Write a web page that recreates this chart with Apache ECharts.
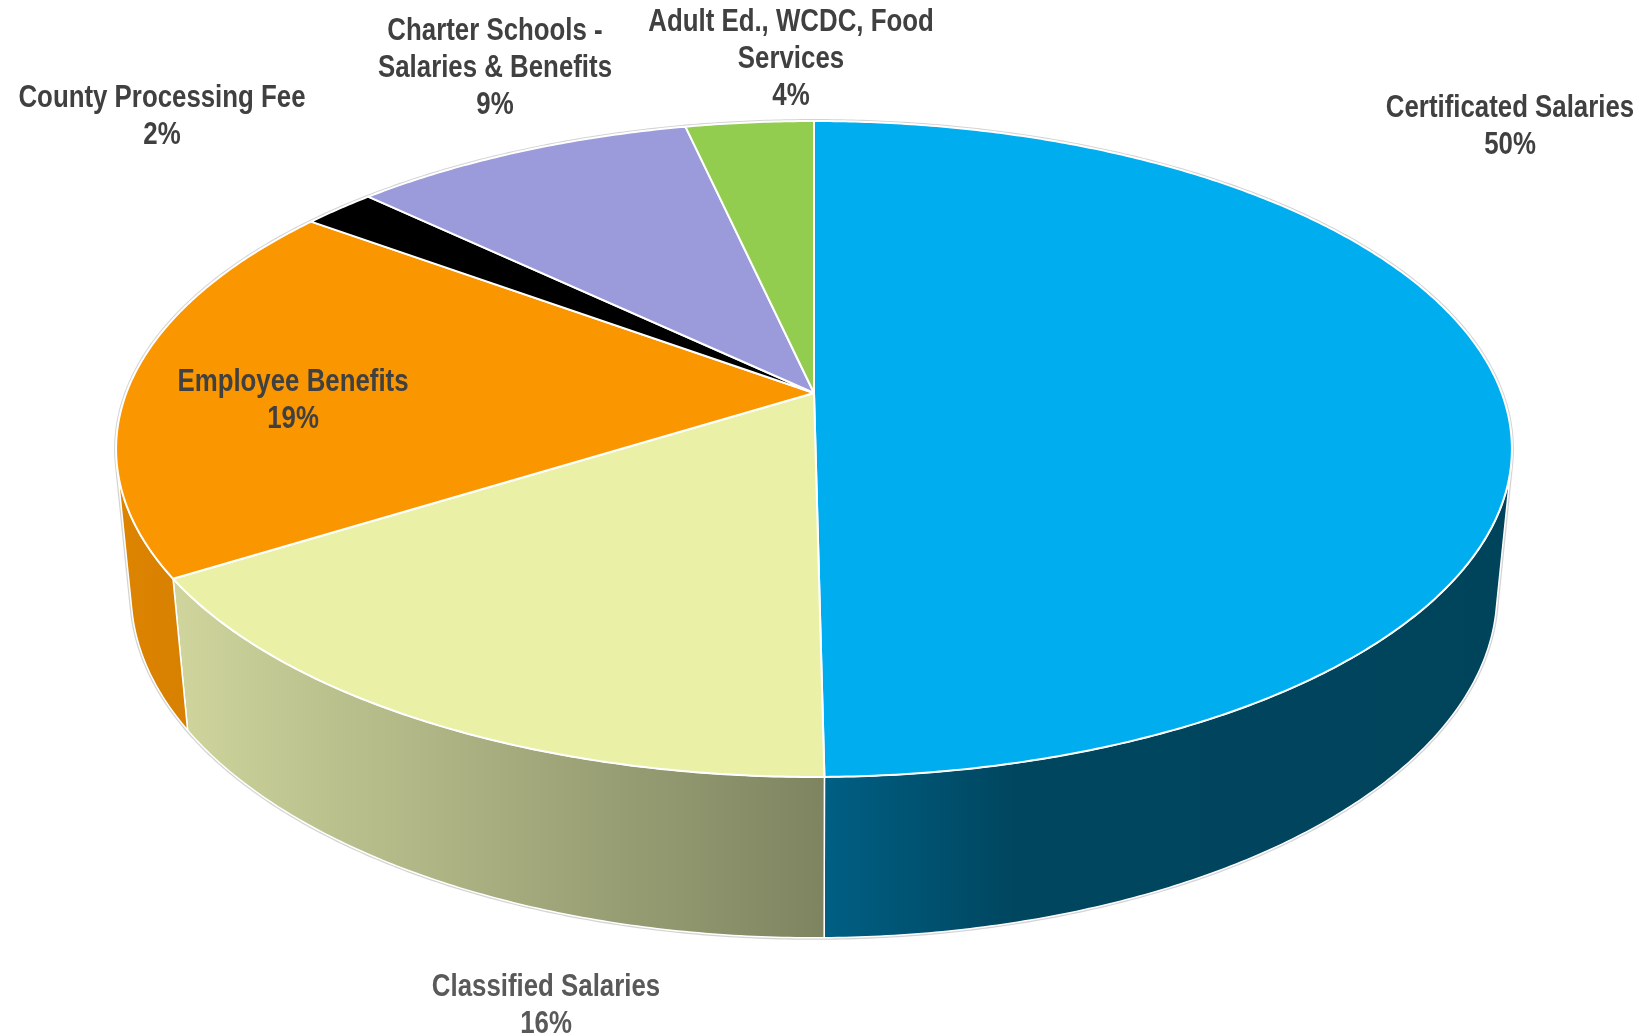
<!DOCTYPE html>
<html>
<head>
<meta charset="utf-8">
<script src="https://cdn.jsdelivr.net/npm/echarts@6/dist/echarts.min.js"></script>
<style>
html,body{margin:0;padding:0;background:#ffffff;}
#chart{width:1644px;height:1036px;}
</style>
</head>
<body>
<div id="chart"></div>
<script>
// ---- data ----
const categories = [
  'Certificated Salaries',
  'Classified Salaries',
  'Employee Benefits',
  'County Processing Fee',
  'Charter Schools -\nSalaries & Benefits',
  'Adult Ed., WCDC, Food\nServices'
];
const values = [49.8, 16.3, 19.0, 2.0, 9.4, 3.5];

// ---- styles ----
const topColors = ['#00AEEF', '#EAF1A7', '#FA9600', '#000000', '#9B9BDB', '#92CD50'];
const wallStops = [
  [[0, '#005F84'], [0.28, '#00465F'], [1, '#00445C']],
  [[0, '#CFD59C'], [1, '#7E8460']],
  [[0, '#DD8500'], [1, '#D88000']],
  [[0, '#111111'], [1, '#000000']],
  [[0, '#7D7DB5'], [1, '#6C6CA2']],
  [[0, '#76A840'], [1, '#669636']]
];
const labelColors = ['#404040', '#595959', '#404040', '#404040', '#404040', '#404040'];
// label anchors (layout, pixels)
const labelPos = [[1510, 127], [546, 1006], [293, 401], [162, 117], [495, 68], [791, 59]];

// ---- 3D projection layout ----
const CX = 814, CY = 393, F = 3569, D = 5.19, S = 0.463, C = 0.886, H = 0.238;
const T_MIN = Math.acos(-1 / (D * C));
const T_MAX = 2 * Math.PI - T_MIN;

function proj(t, r, h) {
  const x = r * Math.sin(t), z = r * Math.cos(t);
  const d = D + z * C - h * S;
  return [CX + F * x / d, CY - F * (h * C + z * S) / d];
}
function arcPts(a, b, r, h) {
  const n = Math.max(2, Math.ceil((b - a) / (Math.PI / 360)));
  const pts = [];
  for (let i = 0; i <= n; i++) pts.push(proj(a + (b - a) * i / n, r, h));
  return pts;
}

const total = values.reduce((s, v) => s + v, 0);
const starts = [];
(function () { let acc = 0; values.forEach(v => { starts.push(acc / total * 2 * Math.PI); acc += v; }); })();

// font detection: narrow font available?
function hasFont(name) {
  const cv = document.createElement('canvas').getContext('2d');
  const txt = 'County Processing Fee 123';
  cv.font = 'bold 30px monospace';
  const w0 = cv.measureText(txt).width;
  cv.font = 'bold 30px "' + name + '", monospace';
  return Math.abs(cv.measureText(txt).width - w0) > 0.5;
}
const narrowOK = hasFont('Liberation Sans Narrow');
const FONT_FAMILY = narrowOK ? '"Liberation Sans Narrow", "Arial Narrow", sans-serif' : '"Liberation Sans", Arial, sans-serif';
const FONT_SCALE_X = narrowOK ? 1 : 0.82;

const chart = echarts.init(document.getElementById('chart'), null, { renderer: 'canvas' });

const seriesData = values.map((v, i) => ({ name: categories[i].replace('\n', ' '), value: [v] }));

const option = {
  backgroundColor: '#ffffff',
  animation: false,
  series: [
    {
      // silhouette glow
      type: 'custom', coordinateSystem: 'none', z: 1, silent: true,
      data: [[total]],
      renderItem: function () {
        const pts = arcPts(T_MIN, T_MAX, 1, -H).concat(arcPts(T_MAX, T_MIN + 2 * Math.PI, 1, 0));
        return { type: 'polygon', shape: { points: pts }, style: { fill: 'none', stroke: '#d4d4d4', lineWidth: 4, lineJoin: 'round' } };
      }
    },
    {
      // walls
      type: 'custom', coordinateSystem: 'none', z: 2, silent: true,
      data: seriesData,
      renderItem: function (params, api) {
        const i = params.dataIndex;
        const v = api.value(0);
        const a0 = starts[i], a1 = a0 + v / total * 2 * Math.PI;
        const a = Math.max(a0, T_MIN), b = Math.min(a1, T_MAX);
        if (b <= a) return { type: 'group', children: [] };
        const top = arcPts(a, b, 1, 0);
        const bot = arcPts(a, b, 1, -H).reverse();
        const pts = top.concat(bot);
        let xmin = Infinity, xmax = -Infinity;
        pts.forEach(p => { xmin = Math.min(xmin, p[0]); xmax = Math.max(xmax, p[0]); });
        const grad = new echarts.graphic.LinearGradient(xmin, 0, xmax, 0,
          wallStops[i].map(s => ({ offset: s[0], color: s[1] })), true);
        return { type: 'polygon', shape: { points: pts }, style: { fill: grad, stroke: '#ffffff', lineWidth: 1.5, lineJoin: 'round' } };
      }
    },
    {
      // top faces
      type: 'custom', coordinateSystem: 'none', z: 3, silent: true,
      data: seriesData,
      renderItem: function (params, api) {
        const i = params.dataIndex;
        const v = api.value(0);
        const a0 = starts[i], a1 = a0 + v / total * 2 * Math.PI;
        const pts = [proj(0, 0, 0)].concat(arcPts(a0, a1, 1, 0));
        return { type: 'polygon', shape: { points: pts }, style: { fill: topColors[i], stroke: '#ffffff', lineWidth: 2, lineJoin: 'round' } };
      }
    },
    {
      // labels
      type: 'custom', coordinateSystem: 'none', z: 4, silent: true,
      data: seriesData,
      renderItem: function (params, api) {
        const i = params.dataIndex;
        const v = api.value(0);
        const pct = Math.round(v / total * 100) + '%';
        return {
          type: 'text',
          x: labelPos[i][0], y: labelPos[i][1],
          scaleX: FONT_SCALE_X,
          style: {
            text: categories[i] + '\n' + pct,
            x: 0, y: 0,
            align: 'center', verticalAlign: 'middle',
            font: 'bold 31.5px ' + FONT_FAMILY,
            lineHeight: 37,
            fill: labelColors[i]
          }
        };
      }
    }
  ]
};
chart.setOption(option);
</script>
</body>
</html>
